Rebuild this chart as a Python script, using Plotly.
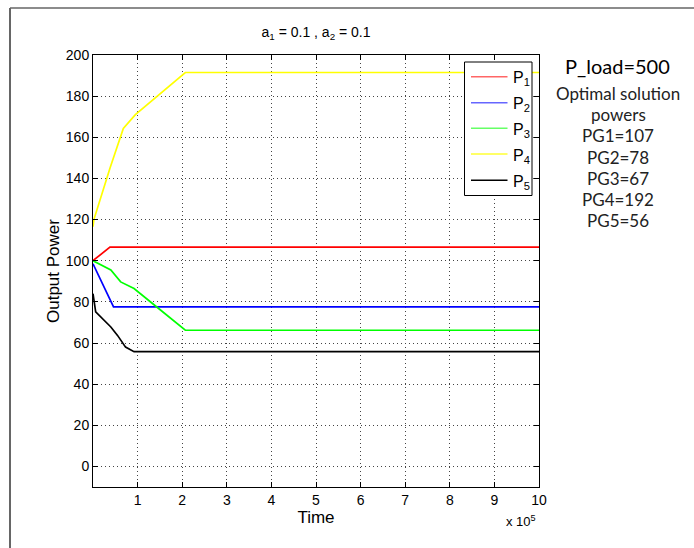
import plotly.graph_objects as go

# ---- data (time in units of 1e5) ----
t_p1 = [0, 0.38, 10]
p1 = [100, 106.6, 106.6]

t_p2 = [0, 0.46, 10]
p2 = [98.5, 77.6, 77.6]

t_p3 = [0, 0.4, 0.62, 0.92, 1.43, 2.07, 10]
p3 = [100, 95.5, 89.7, 86.5, 77.5, 66.2, 66.2]

t_p4 = [0, 0.02, 0.38, 0.68, 0.95, 2.07, 10]
p4 = [116.5, 120, 145, 164.3, 171, 191.5, 191.5]

t_p5 = [0, 0.03, 0.06, 0.4, 0.55, 0.73, 0.92, 10]
p5 = [84, 80, 75.1, 67.8, 63.7, 58, 55.8, 55.8]

names = ["P<sub>1</sub>", "P<sub>2</sub>", "P<sub>3</sub>", "P<sub>4</sub>", "P<sub>5</sub>"]
colors = ["#ff0000", "#0000ff", "#00ff00", "#ffff00", "#000000"]
legend_colors = ["#ff6666", "#6666ff", "#66ff66", "#ffff33", "#000000"]

x_ticks = [1, 2, 3, 4, 5, 6, 7, 8, 9, 10]
y_ticks = [0, 20, 40, 60, 80, 100, 120, 140, 160, 180, 200]

side_title = "P_load=500"
side_lines = ["Optimal solution", "powers", "PG1=107", "PG2=78", "PG3=67", "PG4=192", "PG5=56"]

FONT = "Liberation Sans"

fig = go.Figure()
for tx, py, nm, c in zip([t_p1, t_p2, t_p3, t_p4, t_p5], [p1, p2, p3, p4, p5], names, colors):
    fig.add_trace(go.Scatter(x=tx, y=py, mode="lines", name=nm, showlegend=False,
                             line=dict(color=c, width=1.7)))

axis_font = dict(family=FONT, size=14, color="black")

L, R, T, B = 93, 539, 55, 487
W = R - L
H = B - T


def px(xp):
    return (xp - L) / W


def py_(yp):
    return (B - yp) / H


fig.update_layout(
    width=694, height=548,
    margin=dict(l=L, r=694 - R, t=T, b=548 - B),
    paper_bgcolor="white", plot_bgcolor="white",
    font=axis_font,
    title=dict(text="a<sub>1</sub> = 0.1 , a<sub>2</sub> = 0.1", x=316 / 694, xanchor="center",
               y=1 - 32 / 548, yanchor="middle", font=dict(family=FONT, size=14, color="black")),
    showlegend=False,
)

fig.update_xaxes(range=[0, 10], tickvals=x_ticks, ticks="inside", ticklen=5, tickcolor="black",
                 showline=True, linecolor="black", linewidth=1, mirror="allticks",
                 showgrid=True, gridcolor="#444444", griddash="1px,3px", gridwidth=1,
                 zeroline=False, title=dict(text="Time", standoff=2), tickfont=axis_font)
fig.update_yaxes(range=[-10, 200], tickvals=y_ticks, ticks="inside", ticklen=5, tickcolor="black",
                 showline=True, linecolor="black", linewidth=1, mirror="allticks",
                 showgrid=True, gridcolor="#444444", griddash="1px,3px", gridwidth=1,
                 zeroline=False, title=dict(text="Output Power", standoff=1), tickfont=axis_font)

# legend (manual, matching MATLAB layout)
fig.add_shape(type="rect", xref="paper", yref="paper", x0=px(464.5), x1=px(532), y0=py_(62), y1=py_(195.5),
              line=dict(color="black", width=1), fillcolor="white", layer="above")
leg_y = [76.7, 102.7, 128.3, 154, 180.3]
for nm, c, yy in zip(names, legend_colors, leg_y):
    fig.add_shape(type="line", xref="paper", yref="paper", x0=px(471), x1=px(507.5), y0=py_(yy), y1=py_(yy),
                  line=dict(color=c, width=1.5), layer="above")
    fig.add_annotation(text=nm, xref="paper", yref="paper", x=px(511), y=py_(yy + 2),
                       xanchor="left", yanchor="middle", showarrow=False,
                       font=dict(family=FONT, size=16, color="black"))

# exponent label
fig.add_annotation(text="x 10<sup>5</sup>", xref="paper", yref="paper",
                   x=px(521), y=py_(521), xanchor="center", yanchor="middle", showarrow=False,
                   font=dict(family=FONT, size=13, color="black"))

# side text
fig.add_annotation(text=side_title, xref="paper", yref="paper",
                   x=px(617), y=py_(66), showarrow=False,
                   xanchor="center", yanchor="middle",
                   font=dict(family="Lato", size=20, color="black"))
for i, s in enumerate(side_lines):
    fig.add_annotation(text=s, xref="paper", yref="paper",
                       x=px(618), y=py_(93.5 + 21.2 * i), showarrow=False,
                       xanchor="center", yanchor="middle",
                       font=dict(family="Lato", size=17, color="#222222"))

# outer frame (left and top edges)
fig.add_shape(type="line", xref="paper", yref="paper", x0=px(10), y0=py_(548), x1=px(10), y1=py_(8),
              line=dict(color="#333333", width=1.5))
fig.add_shape(type="line", xref="paper", yref="paper", x0=px(10), y0=py_(8), x1=px(694), y1=py_(8),
              line=dict(color="#666666", width=1.5))

fig.write_html("out.html")
